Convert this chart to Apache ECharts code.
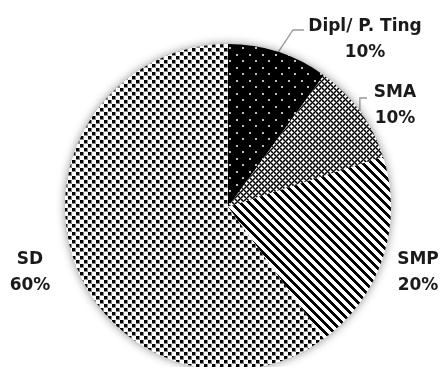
<!DOCTYPE html>
<html>
<head>
<meta charset="utf-8">
<script src="https://cdn.jsdelivr.net/npm/echarts@6/dist/echarts.min.js"></script>
<style>
html,body{margin:0;padding:0;background:#fff;}
#chart{width:441px;height:367px;}
</style>
</head>
<body>
<div id="chart"></div>
<script>
// Data
var categories = ['Dipl/ P. Ting', 'SMA', 'SMP', 'SD'];
var values = [10, 10, 20, 60];

// Pattern tiles
function tile(w, h, draw) {
  var c = document.createElement('canvas');
  c.width = w; c.height = h;
  var ctx = c.getContext('2d');
  draw(ctx, w, h);
  return c;
}
var patDipl = tile(13, 13, function (ctx, w, h) {
  ctx.fillStyle = '#000'; ctx.fillRect(0, 0, w, h);
  ctx.fillStyle = '#bdbdbd';
  ctx.fillRect(2, 2, 2, 2);
  ctx.fillRect(8, 8, 2, 2);
});
var patSMA = tile(6, 6, function (ctx, w, h) {
  ctx.fillStyle = '#fff'; ctx.fillRect(0, 0, w, h);
  for (var x = 0; x < w; x++) {
    for (var y = 0; y < h; y++) {
      var a = (x + y) % 6, b = ((x - y) % 6 + 6) % 6;
      if (a === 0 || b === 0) { ctx.fillStyle = '#000'; ctx.fillRect(x, y, 1, 1); }
      else if (a === 1 || b === 1 || a === 5 || b === 5) { ctx.fillStyle = '#6a6a6a'; ctx.fillRect(x, y, 1, 1); }
    }
  }
});
var patSMP = tile(9, 9, function (ctx, w, h) {
  ctx.fillStyle = '#fff'; ctx.fillRect(0, 0, w, h);
  ctx.fillStyle = '#000';
  for (var x = 0; x < w; x++) {
    for (var y = 0; y < h; y++) {
      if ((((x - y) % 9) + 9) % 9 < 4) ctx.fillRect(x, y, 1, 1);
    }
  }
});
var patSD = tile(8, 8, function (ctx, w, h) {
  ctx.fillStyle = '#fff'; ctx.fillRect(0, 0, w, h);
  ctx.fillStyle = '#8a8a8a';
  ctx.fillRect(0, 0, 4, 4);
  ctx.fillRect(4, 4, 4, 4);
  ctx.fillStyle = '#000';
  ctx.fillRect(0, 0, 3, 3);
  ctx.fillRect(4, 4, 3, 3);
});
var patterns = [patDipl, patSMA, patSMP, patSD];

// label placement (text block centres)
var labelPos = [[365, 40], [395, 106], [418, 273], [30, 273]];

var chart = echarts.init(document.getElementById('chart'), null, {renderer: 'canvas'});
var center = [228, 207];
var radius = 163;

var data = categories.map(function (name, i) {
  return {
    name: name,
    value: values[i],
    itemStyle: {color: {image: patterns[i], repeat: 'repeat'}},
    labelLine: {show: i < 2}
  };
});

chart.setOption({
  animation: false,
  series: [
    {
      type: 'pie',
      silent: true,
      center: center,
      radius: radius,
      data: [{value: 1, name: ''}],
      itemStyle: {color: '#fff', shadowBlur: 10, shadowColor: 'rgba(0,0,0,0.45)'},
      label: {show: false},
      labelLine: {show: false}
    },
    {
      type: 'pie',
      center: center,
      radius: radius,
      startAngle: 90,
      clockwise: true,
      data: data,
      itemStyle: {borderWidth: 0},
      label: {
        show: true,
        position: 'outside',
        overflow: 'none',
        formatter: function (p) { return p.name + '\n' + Math.round(p.percent) + '%'; },
        fontFamily: 'DejaVu Sans',
        fontWeight: 'bold',
        fontSize: 17,
        lineHeight: 26,
        color: '#1a1a1a',
        align: 'center'
      },
      labelLine: {show: true, lineStyle: {color: '#999', width: 1.3}, length: 10, length2: 10},
      labelLayout: function (params) {
        var i = params.dataIndex;
        var pos = labelPos[i];
        var out = {x: pos[0], y: pos[1], align: 'center', verticalAlign: 'middle', width: 140};
        var p0 = params.labelLinePoints && params.labelLinePoints[0];
        if (p0) {
          if (i === 0) {
            out.labelLinePoints = [p0, [pos[0] - 72, pos[1] - 10], [pos[0] - 61, pos[1] - 10]];
          } else if (i === 1) {
            out.labelLinePoints = [p0, [p0[0], pos[1] - 8], [pos[0] - 28, pos[1] - 8]];
          }
        }
        return out;
      }
    }
  ]
});
</script>
</body>
</html>
